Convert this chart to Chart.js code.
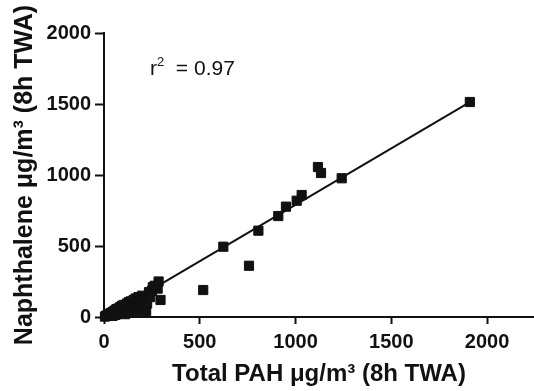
<!DOCTYPE html>
<html>
<head>
<meta charset="utf-8">
<script src="https://cdn.jsdelivr.net/npm/chart.js@4/dist/chart.umd.min.js"></script>
<style>
html,body{margin:0;padding:0;background:#fff;overflow:hidden;}
#wrap{width:534px;height:391px;position:relative;}
canvas{display:block;}
</style>
</head>
<body>
<div id="wrap"><canvas id="c" width="534" height="391"></canvas></div>
<script>
// Total PAH (x) and Naphthalene (y), µg/m3 (8h TWA)
const totalPAH = [
  1910, 1117, 1133, 1241, 1032, 1006, 950, 910, 806, 757, 623, 518,
  295, 285, 280, 220, 5, 10, 15, 20, 25, 30, 35, 40, 45, 50, 55, 60, 65, 70,
  75, 80, 85, 90, 95, 100, 105, 110, 120, 125, 130, 135, 140, 150, 155,
  160, 165, 170, 180, 185, 190, 200, 210, 215, 225, 235, 240, 250, 255,
  265, 45, 90, 130, 175, 60, 110
];
const naphthalene = [
  1514, 1056, 1014, 977, 859, 819, 777, 711, 608, 361, 495, 190,
  120, 250, 200, 42, 3, 8, 10, 12, 20, 15, 28, 22, 35, 30, 45, 40, 55, 48,
  60, 45, 70, 65, 80, 60, 85, 75, 95, 70, 105, 55, 110, 90, 120,
  100, 130, 80, 140, 110, 60, 150, 125, 45, 95, 175, 140, 185, 210,
  220, 8, 25, 30, 40, 15, 20
];
const xTicks = [0, 500, 1000, 1500, 2000];
const yTicks = [0, 500, 1000, 1500, 2000];
const fitSlope = 0.794;
const fitIntercept = -4;
const fitXStart = 0;
const fitXEnd = 1910;
const r2Base = 'r';
const r2Sup = '2';
const r2Rest = '  = 0.97';
const xTitle = 'Total PAH \u03BCg/m\u00B3 (8h TWA)';
const yTitle = 'Naphthalene \u03BCg/m\u00B3 (8h TWA)';

const points = totalPAH.map((x, i) => ({x: x, y: naphthalene[i]}));
const fitLine = [fitXStart, fitXEnd].map(x => ({x: x, y: fitSlope * x + fitIntercept}));

const FONT = '"Liberation Sans", Arial, Helvetica, sans-serif';

const r2Plugin = {
  id: 'r2',
  afterDatasetsDraw(chart) {
    const ctx = chart.ctx;
    const xs = chart.scales.x, ys = chart.scales.y;
    let x = xs.getPixelForValue(240);
    const y = ys.getPixelForValue(1704);
    ctx.save();
    ctx.fillStyle = '#111';
    ctx.textAlign = 'left';
    ctx.textBaseline = 'alphabetic';
    ctx.font = '21px ' + FONT;
    ctx.fillText(r2Base, x, y);
    x += ctx.measureText(r2Base).width;
    ctx.font = '13px ' + FONT;
    ctx.fillText(r2Sup, x, y - 9);
    x += ctx.measureText(r2Sup).width;
    ctx.font = '21px ' + FONT;
    ctx.fillText(r2Rest, x, y);
    ctx.restore();
  }
};

new Chart(document.getElementById('c'), {
  type: 'scatter',
  data: {
    datasets: [
      {
        type: 'line',
        data: fitLine,
        borderColor: '#111',
        borderWidth: 2,
        pointRadius: 0,
        fill: false,
        order: 2,
        clip: false
      },
      {
        data: points,
        pointStyle: 'rect',
        pointRadius: 6.5,
        pointBorderWidth: 1,
        backgroundColor: '#111',
        borderColor: '#111',
        order: 1,
        clip: false
      }
    ]
  },
  options: {
    responsive: false,
    animation: false,
    events: [],
    layout: {autoPadding: false, padding: {top: 33, right: 0, left: 0, bottom: 0}},
    plugins: {legend: {display: false}, tooltip: {enabled: false}},
    scales: {
      x: {
        type: 'linear',
        min: 0,
        max: 2245,
        afterBuildTicks: s => { s.ticks = xTicks.map(v => ({value: v})); },
        afterFit: s => { s.height = 74; s.paddingLeft = 0; s.paddingRight = 0; },
        border: {display: true, color: '#111', width: 2},
        grid: {display: true, drawOnChartArea: false, drawTicks: true, tickLength: 7, tickWidth: 2, tickColor: '#111'},
        ticks: {color: '#111', padding: 6, maxRotation: 0, callback: v => String(v), font: {family: FONT, size: 20, weight: 'bold'}},
        title: {display: true, text: xTitle, color: '#111', padding: {top: 0, bottom: 2}, font: {family: FONT, size: 24, weight: 'bold'}}
      },
      y: {
        type: 'linear',
        min: 0,
        max: 2000,
        afterBuildTicks: s => { s.ticks = yTicks.map(v => ({value: v})); },
        afterFit: s => { s.width = 104; s.paddingTop = 0; s.paddingBottom = 0; },
        border: {display: true, color: '#111', width: 2},
        grid: {display: true, drawOnChartArea: false, drawTicks: true, tickLength: 9, tickWidth: 2, tickColor: '#111'},
        ticks: {color: '#111', padding: 4, callback: v => String(v), font: {family: FONT, size: 20, weight: 'bold'}},
        title: {display: true, text: yTitle, color: '#111', padding: {top: 10, bottom: 0}, font: {family: FONT, size: 25, weight: 'bold'}}
      }
    }
  },
  plugins: [r2Plugin]
});
</script>
</body>
</html>
